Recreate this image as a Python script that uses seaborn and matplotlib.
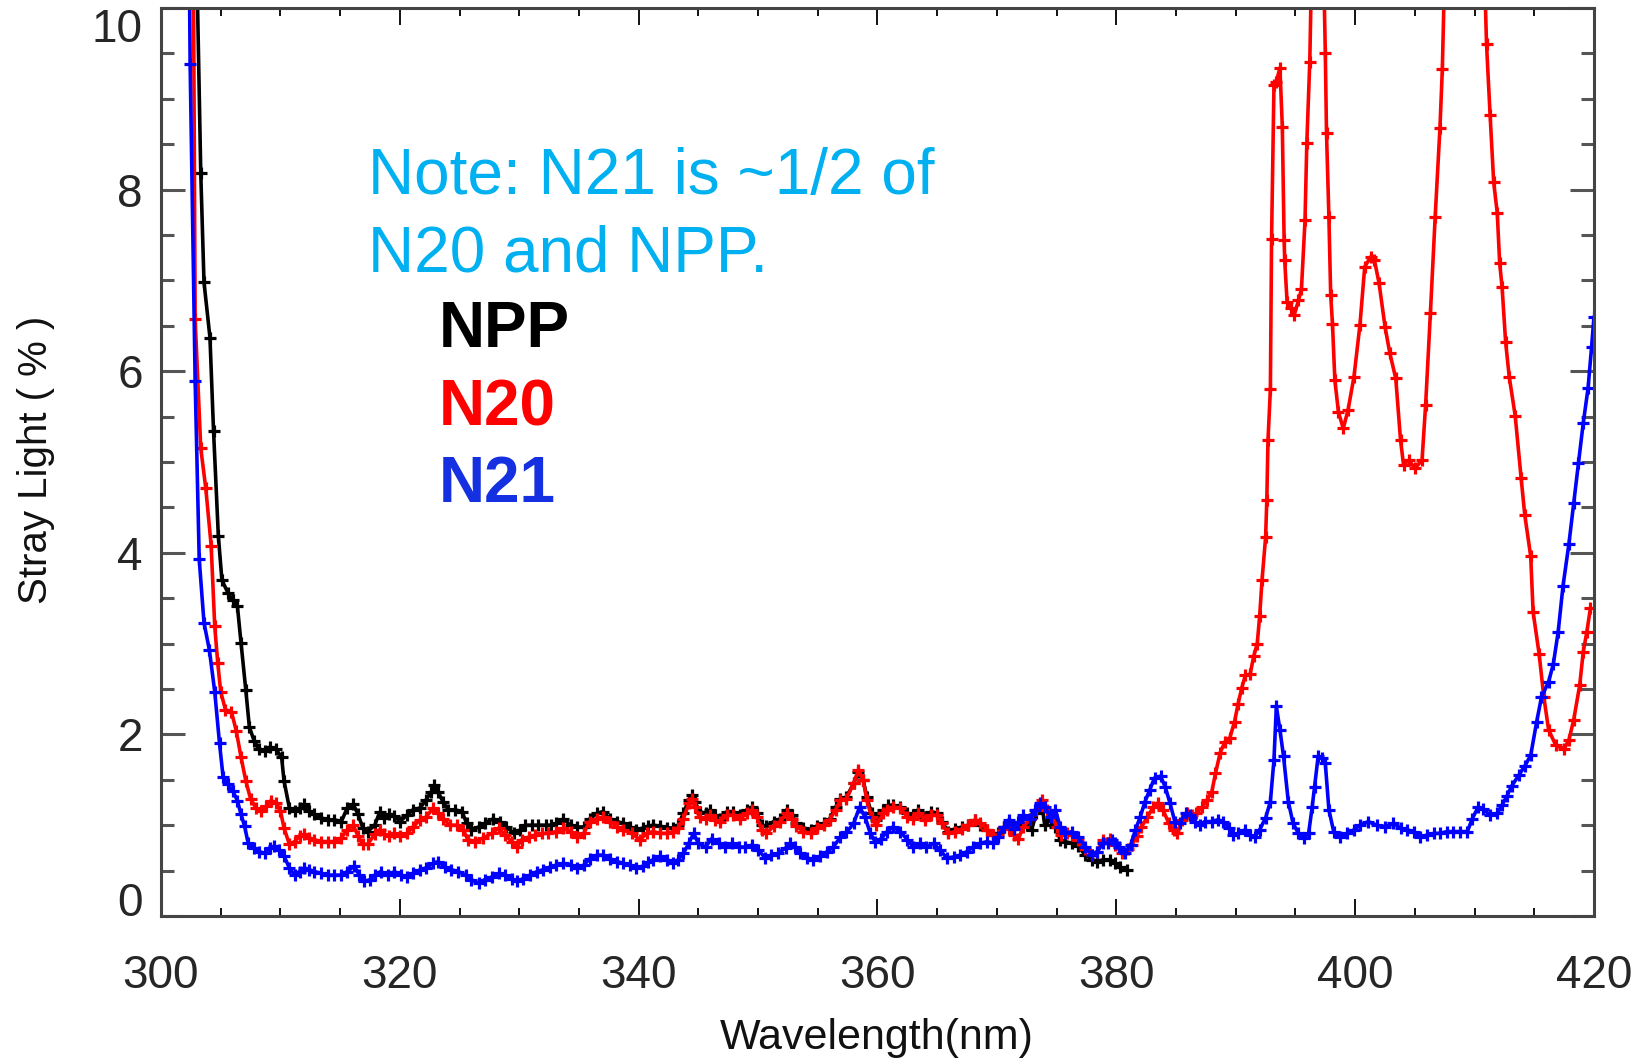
import matplotlib
matplotlib.use("Agg")
import matplotlib.pyplot as plt
from matplotlib.ticker import MultipleLocator
import seaborn as sns

# ---------------- data ----------------
npp_wl = [302.95, 303.33, 303.6, 304.1, 304.4, 304.8, 305.1, 305.6, 306.0, 306.4, 306.7, 307.1, 307.4,
          307.8, 308.2, 308.7, 309.1, 309.6, 310.1, 310.3, 310.75, 311.2, 311.6, 312.0, 312.4, 312.85,
          313.4, 314.0, 314.5, 315.1, 315.6, 316.1, 316.5, 316.9, 317.3, 317.9, 318.3, 318.7, 319.1,
          319.55, 320.0, 320.6, 321.1, 321.7, 322.2, 322.65, 322.9, 323.2, 323.6, 324.05, 324.6, 325.2,
          325.6, 326.0, 326.6, 327.1, 327.8, 328.4, 328.9, 329.6, 330.1, 330.5, 331.05, 331.6, 332.2,
          332.7, 333.1, 333.7, 334.3, 334.8, 335.4, 335.9, 336.5, 337.0, 337.6, 338.2, 338.7, 339.3,
          339.8, 340.4, 340.8, 341.2, 341.8, 342.4, 342.9, 343.3, 343.75, 344.2, 344.45, 344.7, 345.1,
          345.6, 346.0, 346.4, 346.8, 347.4, 347.9, 348.5, 349.05, 349.5, 349.9, 350.3, 350.7, 351.3,
          351.85, 352.4, 352.8, 353.2, 353.8, 354.4, 354.9, 355.5, 356.0, 356.5, 356.9, 357.4, 358.0,
          358.4, 358.8, 359.1, 359.5, 359.9, 360.5, 360.9, 361.3, 361.9, 362.5, 363.0, 363.4, 364.0,
          364.5, 365.0, 365.4, 365.9, 366.5, 367.1, 367.6, 368.2, 368.6, 369.2, 369.7, 370.1, 370.6,
          371.0, 371.4, 371.95, 372.5, 372.9, 373.3, 373.8, 374.0, 374.5, 374.9, 375.3, 375.7, 376.3,
          376.8, 377.4, 378.0, 378.4, 378.9, 379.5, 379.9, 380.3, 380.9]
npp_val = [10.8, 8.18, 6.98, 6.37, 5.34, 4.19, 3.70, 3.56, 3.48, 3.41, 3.01, 2.49, 2.08,
           1.93, 1.84, 1.82, 1.86, 1.84, 1.75, 1.49, 1.19, 1.16, 1.19, 1.23, 1.16, 1.12,
           1.08, 1.06, 1.06, 1.04, 1.19, 1.23, 1.12, 0.97, 0.93, 1.00, 1.14, 1.08, 1.12,
           1.10, 1.04, 1.11, 1.17, 1.19, 1.28, 1.37, 1.44, 1.37, 1.26, 1.17, 1.17, 1.15,
           1.02, 0.95, 0.98, 1.02, 1.07, 1.04, 0.98, 0.91, 0.95, 1.00, 1.00, 1.00, 1.00,
           1.00, 1.02, 1.07, 1.00, 0.98, 0.98, 1.07, 1.13, 1.15, 1.07, 1.04, 1.02, 0.98,
           0.95, 0.97, 0.99, 1.00, 0.99, 0.97, 0.97, 1.00, 1.13, 1.28, 1.33, 1.26, 1.15,
           1.13, 1.17, 1.11, 1.07, 1.15, 1.15, 1.11, 1.17, 1.20, 1.13, 1.00, 0.99, 1.04,
           1.07, 1.17, 1.11, 1.02, 0.97, 0.95, 0.99, 1.02, 1.07, 1.20, 1.29, 1.31, 1.46,
           1.59, 1.50, 1.31, 1.13, 1.06, 1.17, 1.22, 1.22, 1.20, 1.13, 1.11, 1.17, 1.09,
           1.15, 1.13, 1.04, 0.93, 0.96, 0.98, 1.00, 1.06, 1.00, 0.95, 0.89, 0.91, 0.98,
           1.02, 0.96, 1.02, 1.00, 0.95, 1.13, 1.20, 1.00, 1.06, 0.98, 0.84, 0.82, 0.80,
           0.77, 0.67, 0.62, 0.60, 0.62, 0.62, 0.58, 0.54, 0.51]

n20_wl = [302.7, 302.86, 303.33, 303.75, 304.2, 304.5, 304.75, 305.0, 305.4, 305.9, 306.3, 306.7, 307.1,
          307.5, 307.96, 308.4, 308.8, 309.2, 309.6, 310.0, 310.3, 310.75, 311.2, 311.6, 312.0, 312.4,
          312.85, 313.4, 313.97, 314.5, 315.1, 315.6, 316.1, 316.5, 316.9, 317.3, 317.9, 318.3, 318.7,
          319.1, 319.55, 320.0, 320.6, 321.1, 321.7, 322.2, 322.8, 323.2, 323.6, 324.2, 324.8, 325.3,
          325.7, 326.3, 327.0, 327.7, 328.3, 328.8, 329.4, 329.8, 330.2, 330.8, 331.3, 331.9, 332.4,
          333.1, 333.7, 334.3, 334.8, 335.4, 335.9, 336.5, 337.0, 337.6, 338.2, 338.7, 339.4, 340.1,
          340.7, 341.2, 341.8, 342.4, 342.9, 343.3, 343.75, 344.2, 344.45, 344.7, 345.1, 345.6, 346.0,
          346.4, 346.8, 347.4, 347.9, 348.5, 349.05, 349.5, 349.9, 350.3, 350.7, 351.3, 351.85, 352.4,
          352.8, 353.2, 353.8, 354.4, 354.9, 355.5, 356.0, 356.5, 356.9, 357.4, 358.0, 358.4, 358.8,
          359.1, 359.5, 359.9, 360.5, 360.8, 361.3, 361.9, 362.5, 363.0, 363.4, 364.0, 364.5, 365.0,
          365.4, 365.9, 366.5, 367.1, 367.6, 368.2, 368.6, 369.2, 369.7, 370.1, 370.6, 371.0, 371.4,
          371.8, 372.2, 372.8, 373.3, 373.8, 374.2, 374.6, 375.0, 375.4, 375.9, 376.3, 376.8, 377.4,
          378.0, 378.4, 378.9, 379.5, 379.9, 380.5, 381.0, 381.3, 381.7, 382.1, 382.6, 383.1, 383.5,
          383.9, 384.4, 384.8, 385.1, 385.5, 385.9, 386.3, 386.7, 387.2, 387.6, 388.0, 388.3, 388.7,
          389.1, 389.5, 389.9, 390.2, 390.5, 390.8, 391.2, 391.5, 391.8, 392.0, 392.2, 392.5, 392.6,
          392.7, 392.9, 393.0, 393.2, 393.4, 393.7, 393.9, 394.05, 394.1, 394.3, 394.6, 394.9, 395.25,
          395.5, 395.8, 395.95, 396.2, 396.5, 396.9, 397.2, 397.5, 397.6, 397.8, 397.95, 398.1, 398.3,
          398.6, 399.0, 399.4, 399.9, 400.4, 400.8, 401.3, 401.6, 402.0, 402.5, 402.9, 403.4, 403.8,
          404.05, 404.5, 405.0, 405.6, 405.9, 406.3, 406.7, 407.1, 407.3, 407.6, 408.2, 409.0, 410.0,
          410.7, 411.0, 411.3, 411.6, 411.9, 412.1, 412.3, 412.6, 412.9, 413.4, 413.9, 414.2, 414.7,
          414.9, 415.4, 415.8, 416.2, 416.8, 417.5, 417.9, 418.3, 418.8, 419.1, 419.4, 419.7]
n20_val = [10.8, 6.57, 5.15, 4.71, 4.08, 3.19, 2.79, 2.47, 2.27, 2.25, 2.04, 1.75, 1.49,
           1.29, 1.19, 1.16, 1.21, 1.27, 1.25, 1.16, 0.97, 0.79, 0.82, 0.88, 0.90, 0.86,
           0.84, 0.82, 0.82, 0.82, 0.86, 0.95, 1.00, 0.88, 0.79, 0.79, 0.90, 0.95, 0.90,
           0.88, 0.91, 0.88, 0.91, 0.98, 1.06, 1.09, 1.19, 1.13, 1.07, 1.00, 1.00, 0.95,
           0.84, 0.82, 0.86, 0.91, 0.97, 0.89, 0.82, 0.76, 0.84, 0.87, 0.89, 0.91, 0.91,
           0.93, 0.97, 0.93, 0.87, 0.91, 1.04, 1.07, 1.09, 1.04, 0.98, 0.95, 0.91, 0.84,
           0.91, 0.93, 0.91, 0.91, 0.93, 0.97, 1.07, 1.24, 1.29, 1.20, 1.09, 1.07, 1.11,
           1.06, 1.04, 1.11, 1.11, 1.07, 1.13, 1.17, 1.09, 0.95, 0.91, 0.99, 1.04, 1.13,
           1.07, 0.99, 0.93, 0.91, 0.97, 1.00, 1.06, 1.17, 1.28, 1.29, 1.46, 1.61, 1.50,
           1.28, 1.09, 1.00, 1.13, 1.17, 1.20, 1.19, 1.09, 1.07, 1.13, 1.06, 1.11, 1.11,
           1.02, 0.91, 0.93, 0.96, 1.00, 1.06, 1.02, 0.95, 0.89, 0.89, 0.98, 0.96, 0.89,
           0.85, 0.98, 1.07, 1.17, 1.28, 1.17, 1.11, 0.98, 0.89, 0.91, 0.89, 0.84, 0.74,
           0.67, 0.71, 0.84, 0.85, 0.78, 0.69, 0.74, 0.78, 0.88, 0.98, 1.09, 1.20, 1.25,
           1.17, 1.02, 0.95, 0.91, 1.06, 1.13, 1.11, 1.13, 1.20, 1.28, 1.37, 1.57, 1.80,
           1.92, 1.96, 2.14, 2.34, 2.51, 2.65, 2.66, 2.86, 3.00, 3.30, 3.70, 4.17, 4.58,
           5.24, 5.80, 7.46, 9.15, 9.19, 9.34, 8.69, 7.45, 7.22, 6.76, 6.70, 6.62, 6.78,
           6.90, 7.66, 8.51, 9.41, 11.5, 12.5, 11.5, 9.50, 8.62, 7.70, 6.84, 6.52, 5.90,
           5.55, 5.37, 5.57, 5.94, 6.51, 7.15, 7.26, 7.23, 6.97, 6.49, 6.20, 5.92, 5.24,
           4.97, 5.02, 4.93, 5.02, 5.63, 6.64, 7.70, 8.68, 9.33, 11.0, 13.0, 14.0, 13.5,
           11.0, 9.60, 8.82, 8.08, 7.74, 7.19, 6.93, 6.32, 5.94, 5.51, 4.82, 4.42, 3.96,
           3.35, 2.89, 2.41, 2.05, 1.88, 1.84, 1.94, 2.16, 2.54, 2.91, 3.13, 3.39]

n21_wl = [302.35, 302.44, 302.86, 303.2, 303.6, 304.05, 304.5, 304.9, 305.2, 305.6, 306.0, 306.4, 306.7,
          307.0, 307.3, 307.8, 308.2, 308.7, 309.1, 309.5, 309.9, 310.3, 310.75, 311.2, 311.6, 312.0,
          312.4, 312.85, 313.4, 313.97, 314.5, 315.1, 315.6, 316.2, 316.6, 317.0, 317.5, 317.9, 318.4,
          319.0, 319.55, 320.1, 320.6, 321.1, 321.7, 322.2, 322.8, 323.2, 323.8, 324.3, 324.9, 325.5,
          326.0, 326.6, 327.1, 327.7, 328.3, 328.8, 329.4, 329.8, 330.3, 330.9, 331.5, 332.0, 332.6,
          333.1, 333.7, 334.3, 334.8, 335.4, 335.9, 336.5, 337.0, 337.6, 338.2, 338.7, 339.3, 339.8,
          340.4, 340.8, 341.2, 341.8, 342.4, 342.9, 343.3, 343.75, 344.2, 344.6, 345.0, 345.6, 346.1,
          346.7, 347.2, 347.8, 348.4, 348.9, 349.5, 350.0, 350.6, 351.1, 351.7, 352.3, 352.7, 353.1,
          353.5, 354.1, 354.6, 355.2, 355.8, 356.3, 356.9, 357.4, 358.0, 358.5, 358.96, 359.4, 359.8,
          360.3, 360.8, 361.3, 361.9, 362.5, 363.0, 363.6, 364.1, 364.7, 365.2, 365.8, 366.4, 366.9,
          367.5, 368.0, 368.6, 369.2, 369.7, 370.1, 370.6, 371.0, 371.4, 371.8, 372.2, 372.8, 373.2,
          373.6, 374.0, 374.5, 374.9, 375.3, 375.7, 376.3, 376.8, 377.4, 378.0, 378.4, 378.9, 379.3,
          379.6, 379.9, 380.2, 380.7, 381.2, 381.6, 382.0, 382.4, 382.8, 383.2, 383.7, 384.1, 384.5,
          384.9, 385.3, 385.8, 386.2, 386.6, 387.0, 387.4, 388.0, 388.5, 388.97, 389.4, 389.8, 390.2,
          390.8, 391.2, 391.6, 392.0, 392.5, 392.9, 393.2, 393.4, 393.7, 394.0, 394.4, 394.8, 395.25,
          395.7, 396.1, 396.4, 396.6, 396.9, 397.2, 397.5, 397.8, 398.2, 398.7, 399.3, 399.9, 400.4,
          401.1, 401.8, 402.5, 403.2, 403.8, 404.3, 404.9, 405.4, 406.0, 406.6, 407.1, 407.7, 408.2,
          408.8, 409.4, 409.8, 410.3, 410.7, 411.3, 411.9, 412.3, 412.7, 413.1, 413.7, 414.2, 414.7,
          415.2, 415.6, 416.2, 416.6, 417.0, 417.4, 417.9, 418.3, 418.7, 419.1, 419.5, 419.8, 420.0]
n21_val = [10.8, 9.38, 5.89, 3.93, 3.23, 2.93, 2.47, 1.90, 1.53, 1.45, 1.38, 1.27, 1.12,
           0.99, 0.80, 0.75, 0.71, 0.69, 0.75, 0.77, 0.73, 0.66, 0.53, 0.45, 0.49, 0.53,
           0.51, 0.49, 0.47, 0.45, 0.45, 0.45, 0.49, 0.55, 0.45, 0.38, 0.40, 0.45, 0.49,
           0.45, 0.49, 0.45, 0.43, 0.47, 0.51, 0.53, 0.58, 0.60, 0.54, 0.51, 0.49, 0.45,
           0.40, 0.36, 0.40, 0.43, 0.47, 0.45, 0.41, 0.38, 0.41, 0.45, 0.49, 0.51, 0.54,
           0.56, 0.58, 0.56, 0.53, 0.56, 0.63, 0.67, 0.67, 0.63, 0.60, 0.58, 0.56, 0.53,
           0.55, 0.59, 0.62, 0.66, 0.62, 0.58, 0.62, 0.69, 0.80, 0.91, 0.80, 0.76, 0.85,
           0.80, 0.76, 0.80, 0.76, 0.76, 0.78, 0.73, 0.64, 0.67, 0.69, 0.75, 0.80, 0.76,
           0.69, 0.64, 0.62, 0.66, 0.71, 0.76, 0.87, 0.92, 1.02, 1.20, 1.09, 0.91, 0.82,
           0.85, 0.93, 0.98, 0.93, 0.84, 0.76, 0.80, 0.76, 0.80, 0.73, 0.64, 0.65, 0.67,
           0.71, 0.76, 0.80, 0.82, 0.80, 0.87, 0.98, 1.06, 0.96, 1.04, 1.11, 1.07, 1.17,
           1.24, 1.20, 1.09, 1.17, 0.98, 0.91, 0.93, 0.87, 0.76, 0.67, 0.71, 0.80, 0.80,
           0.84, 0.80, 0.76, 0.69, 0.78, 0.95, 1.09, 1.26, 1.39, 1.52, 1.54, 1.42, 1.24,
           1.04, 1.02, 1.13, 1.11, 1.04, 1.00, 1.04, 1.04, 1.06, 1.04, 0.97, 0.89, 0.91,
           0.95, 0.89, 0.87, 0.95, 1.08, 1.26, 1.72, 2.31, 2.05, 1.76, 1.26, 1.02, 0.91,
           0.86, 0.91, 1.20, 1.42, 1.76, 1.74, 1.68, 1.17, 0.93, 0.87, 0.91, 0.95, 1.00,
           1.04, 1.00, 0.98, 1.02, 0.97, 0.95, 0.93, 0.87, 0.89, 0.91, 0.91, 0.93, 0.93,
           0.93, 0.93, 1.07, 1.20, 1.18, 1.11, 1.13, 1.22, 1.32, 1.43, 1.55, 1.65, 1.77,
           2.14, 2.41, 2.58, 2.78, 3.13, 3.63, 4.10, 4.55, 4.99, 5.43, 5.81, 6.27, 6.60]

series_names = ["NPP", "N20", "N21"]
series_colors = ["#000000", "#ff0000", "#0000ff"]
x_ticks = [300, 320, 340, 360, 380, 400, 420]
y_ticks = [0, 2, 4, 6, 8, 10]

# ---------------- style ----------------
sns.set_style("ticks")
plt.rcParams["font.family"] = ["Liberation Sans", "DejaVu Sans"]

W, H = 1640, 1060
fig = plt.figure(figsize=(W / 100, H / 100), dpi=100)
L, R, T, B = 161, 1594, 8, 916
ax = fig.add_axes([L / W, 1 - B / H, (R - L) / W, (B - T) / H])

data = [(npp_wl, npp_val), (n20_wl, n20_val), (n21_wl, n21_val)]
for (wl, val), name, col in zip(data, series_names, series_colors):
    sns.lineplot(x=wl, y=val, ax=ax, color=col, linewidth=2.6, marker="+",
                 markersize=9, markeredgewidth=2.3, markeredgecolor=col,
                 sort=False, estimator=None, legend=False)

ax.set_xlim(300, 420)
ax.set_ylim(0, 10)
ax.set_xticks(x_ticks)
ax.set_yticks(y_ticks)
ax.set_xticklabels([str(v) for v in x_ticks])
ax.set_yticklabels([str(v) for v in y_ticks])
ax.xaxis.set_minor_locator(MultipleLocator(5))
ax.yaxis.set_minor_locator(MultipleLocator(0.5))
ax.set_xlabel("")
ax.set_ylabel("")

ax.tick_params(which="both", direction="in", top=True, right=True)
ax.tick_params(axis="x", which="major", length=12, width=1.4, pad=27, labelsize=33, color="#111111")
ax.tick_params(axis="x", which="minor", length=6, width=1.4, color="#111111")
ax.tick_params(axis="y", which="major", length=17, width=2.2, pad=13, labelsize=33, color="#555555")
ax.tick_params(axis="y", which="minor", length=9.5, width=2.2, color="#555555")
yt = ax.yaxis.get_major_ticks()
yt[0].label1.set_va("baseline")
yt[-1].label1.set_va("top")

for sp in ax.spines.values():
    sp.set_color("#444444")
    sp.set_linewidth(2.2)

# axis titles
fig.text(877 / W, 1 - 1049 / H, "Wavelength(nm)", ha="center", va="baseline",
         fontsize=31, color="#111111")
fig.text(36 / W, 1 - 440 / H * 1.0459 * 0 - 460 / H, "Stray Light ( % )", ha="center", va="center",
         rotation=90, fontsize=29, color="#111111")

# annotations
note_col = "#00b0f0"
fig.text(368 / W, 1 - 194 / H, "Note: N21 is ~1/2 of", color=note_col, fontsize=46,
         ha="left", va="baseline")
fig.text(368 / W, 1 - 272 / H, "N20 and NPP.", color=note_col, fontsize=46,
         ha="left", va="baseline")
lab_cols = ["#000000", "#ff0000", "#1530e0"]
for name, col, yb in zip(series_names, lab_cols, [347, 425, 502]):
    fig.text(439 / W, 1 - yb / H, name, color=col, fontsize=46, fontweight="bold",
             ha="left", va="baseline")

fig.savefig("out.png", dpi=100, facecolor="white")
